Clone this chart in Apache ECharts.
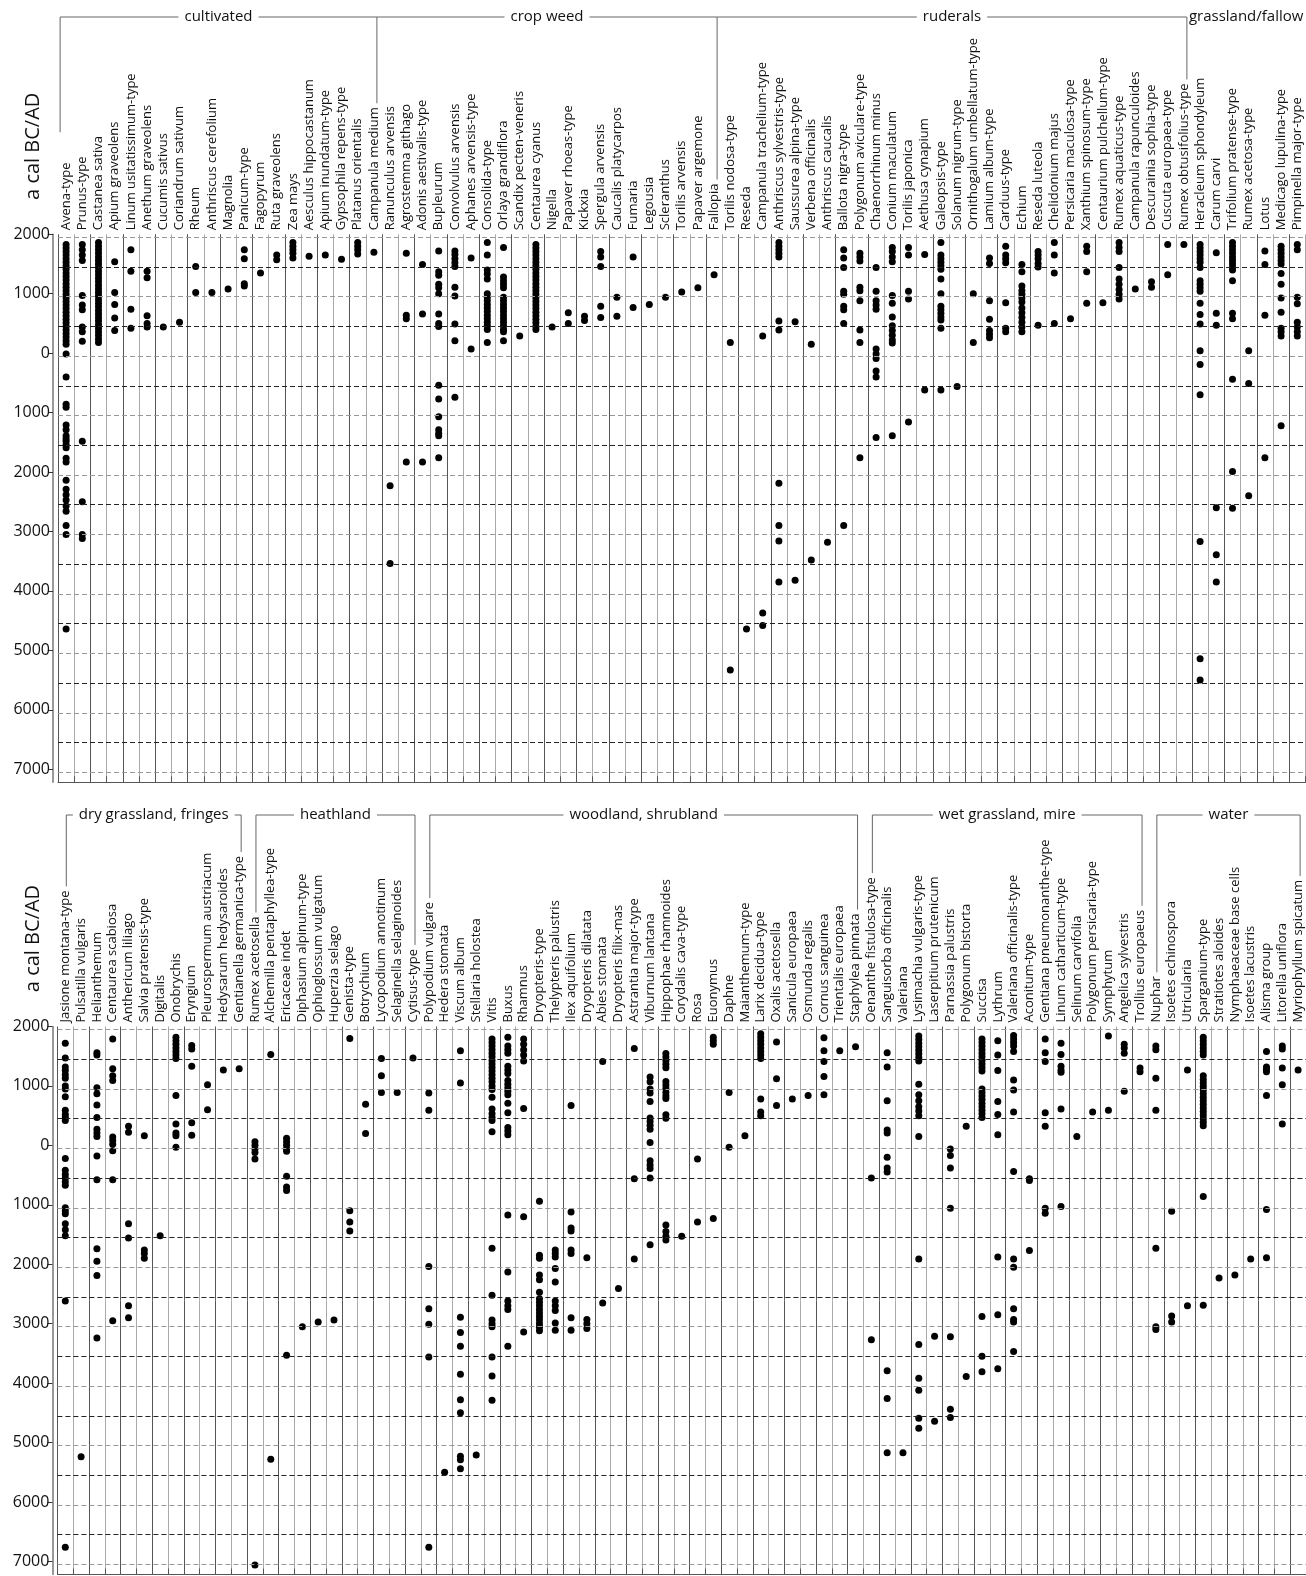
<!DOCTYPE html>
<html>
<head>
<meta charset="utf-8">
<script src="https://cdn.jsdelivr.net/npm/echarts@6/dist/echarts.min.js"></script>
<style>
  html, body { margin: 0; padding: 0; background: #fff; }
  #chart { width: 1306px; height: 1576px; }
</style>
</head>
<body>
<div id="chart"></div>
<script>
// ---- data (years: positive = AD, negative = BC) ----
const yTicks = [2000, 1000, 0, -1000, -2000, -3000, -4000, -5000, -6000, -7000];
// dashed guide lines every 500 years BP
const bpLines = [1950, 1450, 950, 450, -50, -550, -1050, -1550, -2050, -2550, -3050, -3550, -4050, -4550, -5050, -5550, -6050, -6550, -7050];

const cultivatedTaxa = ['Avena-type', 'Prunus-type', 'Castanea sativa', 'Apium graveolens', 'Linum usitatissimum-type', 'Anethum graveolens', 'Cucumis sativus', 'Coriandrum sativum', 'Rheum', 'Anthriscus cerefolium', 'Magnolia', 'Panicum-type', 'Fagopyrum', 'Ruta graveolens', 'Zea mays', 'Aesculus hippocastanum', 'Apium inundatum-type', 'Gypsophila repens-type', 'Platanus orientalis', 'Campanula medium'];
const cultivatedDates = [
  [1830, 1770, 1710, 1650, 1590, 1530, 1470, 1410, 1350, 1290, 1230, 1170, 1110, 1050, 990, 930, 870, 810, 750, 690, 630, 570, 510, 450, 390, 330, 270, 210, 150, -15, -400, -860, -910, -1210, -1290, -1390, -1440, -1480, -1540, -1590, -1770, -1830, -2140, -2290, -2380, -2470, -2570, -2660, -2900, -3050, -4640],
  [1830, 1740, 1650, 1560, 970, 810, 730, 440, 360, 200, -1480, -2500, -3050, -3120],
  [1860, 1800, 1740, 1680, 1620, 1560, 1500, 1440, 1380, 1320, 1260, 1200, 1140, 1080, 1020, 960, 900, 840, 780, 720, 660, 600, 540, 480, 420, 360, 300, 240, 180],
  [1540, 1020, 820, 590, 380],
  [1740, 1380, 740, 420],
  [1380, 1270, 630, 500, 440],
  [440],
  [520],
  [1460, 1020],
  [1020],
  [1080],
  [1740, 1590, 1170, 1130],
  [1350],
  [1650, 1570],
  [1860, 1800, 1740, 1680, 1600],
  [1630],
  [1650],
  [1580],
  [1860, 1800, 1740, 1670],
  [1700]
];

const cropWeedTaxa = ['Ranunculus arvensis', 'Agrostemma githago', 'Adonis aestivalis-type', 'Bupleurum', 'Convolvulus arvensis', 'Aphanes arvensis-type', 'Consolida-type', 'Orlaya grandiflora', 'Scandix pecten-veneris', 'Centaurea cyanus', 'Nigella', 'Papaver rhoeas-type', 'Kickxia', 'Spergula arvensis', 'Caucalis platycarpos', 'Fumaria', 'Legousia', 'Scleranthus', 'Torilis arvensis', 'Papaver argemone', 'Fallopia'];
const cropWeedDates = [
  [-2230, -3540],
  [1680, 640, 580, -1830],
  [1490, 660, -1830],
  [1720, 1370, 1310, 1160, 1100, 1000, 660, 500, 450, -540, -770, -1070, -1290, -1350, -1390, -1760],
  [1720, 1660, 1590, 1520, 1460, 1110, 960, 490, 210, -740],
  [1600, 70],
  [1860, 1650, 1400, 1330, 1250, 1000, 940, 880, 820, 760, 700, 640, 580, 520, 460, 400, 180],
  [1780, 1280, 1220, 1160, 1100, 940, 880, 820, 760, 700, 640, 580, 520, 460, 400, 360, 210],
  [290],
  [1830, 1770, 1710, 1650, 1590, 1530, 1470, 1410, 1350, 1290, 1230, 1170, 1110, 1050, 990, 930, 870, 810, 750, 690, 630, 570, 510, 450, 400],
  [440],
  [680, 500],
  [620, 550],
  [1710, 1620, 1460, 790, 600],
  [940, 620],
  [1620, 770],
  [820],
  [940],
  [1030],
  [1100],
  [1320]
];

const ruderalsTaxa = ['Torilis nodosa-type', 'Reseda', 'Campanula trachelium-type', 'Anthriscus sylvestris-type', 'Saussurea alpina-type', 'Verbena officinalis', 'Anthriscus caucalis', 'Ballota nigra-type', 'Polygonum aviculare-type', 'Chaenorrhinum minus', 'Conium maculatum', 'Torilis japonica', 'Aethusa cynapium', 'Galeopsis-type', 'Solanum nigrum-type', 'Ornithogalum umbellatum-type', 'Lamium album-type', 'Carduus-type', 'Echium', 'Reseda luteola', 'Chelidonium majus', 'Persicaria maculosa-type', 'Xanthium spinosum-type', 'Centaurium pulchellum-type', 'Rumex aquaticus-type', 'Campanula rapunculoides', 'Descurainia sophia-type', 'Cuscuta europaea-type', 'Rumex obtusifolius-type'];
const ruderalsDates = [
  [180, -5330],
  [-4640],
  [290, -4370, -4580],
  [1860, 1800, 1740, 1680, 1620, 540, 390, -2190, -2900, -3160, -3850],
  [530, -3820],
  [150, -3480],
  [-3180],
  [1740, 1600, 1440, 1040, 990, 790, 730, 500, -2900],
  [1680, 1620, 1550, 1110, 1050, 880, 390, 180, -1760],
  [1440, 1040, 880, 810, 740, 70, -15, -90, -300, -400, -1420],
  [1780, 1710, 1620, 1540, 970, 840, 610, 460, 380, 300, 220, 170, -1390],
  [1780, 1650, 1040, 910, -1160],
  [1660, -620],
  [1860, 1650, 1590, 1530, 1470, 1410, 1250, 1000, 790, 730, 670, 610, 560, 420, -620],
  [-560],
  [1000, 180],
  [1600, 1510, 880, 570, 380, 320, 260],
  [1800, 1650, 1590, 1520, 850, 420, 360],
  [1490, 1370, 1130, 1050, 990, 930, 860, 760, 680, 600, 520, 440, 360],
  [1710, 1650, 1590, 1510, 1450, 470],
  [1860, 1650, 1350, 500],
  [580],
  [1800, 1710, 1370, 840],
  [850],
  [1860, 1780, 1710, 1440, 1250, 1160, 1070, 990, 910],
  [1080],
  [1200, 1110],
  [1830, 1320],
  [1830]
];

const grasslandTaxa = ['Heracleum sphondyleum', 'Carum carvi', 'Trifolium pratense-type', 'Rumex acetosa-type', 'Lotus', 'Medicago lupulina-type', 'Pimpinella major-type'];
const grasslandDates = [
  [1830, 1770, 1710, 1650, 1590, 1530, 1440, 1220, 1160, 1100, 1040, 840, 650, 490, 40, -190, -700, -3170, -5140, -5500],
  [1690, 670, 470, -2600, -3390, -3850],
  [1860, 1800, 1740, 1680, 1620, 1560, 1500, 1440, 1400, 1220, 670, 580, -440, -1990, -2610],
  [40, -510, -2400],
  [1720, 1490, 640, -1760],
  [1800, 1740, 1680, 1620, 1560, 1500, 1340, 1160, 930, 690, 420, 360, 290, -1220],
  [1830, 1740, 940, 830, 520, 440, 360, 290]
];

const dryTaxa = ['Jasione montana-type', 'Pulsatilla vulgaris', 'Helianthemum', 'Centaurea scabiosa', 'Anthericum liliago', 'Salvia pratensis-type', 'Digitalis', 'Onobrychis', 'Eryngium', 'Pleurospermum austriacum', 'Hedysarum hedysaroides', 'Gentianella germanica-type'];
const dryDates = [
  [1720, 1470, 1320, 1260, 1190, 1130, 1000, 950, 820, 590, 520, 470, 420, -220, -420, -490, -550, -610, -670, -1050, -1100, -1150, -1320, -1420, -1520, -2620, -6760],
  [-5240],
  [1560, 1520, 970, 870, 680, 470, 270, 210, 150, -180, -580, -1740, -1950, -2190, -3240],
  [1790, 1290, 1170, 1090, 140, 80, 20, -90, -580, -2950],
  [320, 220, -1320, -1560, -2700, -2900],
  [160, -1760, -1820, -1900],
  [-1520],
  [1820, 1760, 1700, 1640, 1580, 1520, 1460, 840, 360, 210, 160, -30],
  [1680, 1620, 1330, 380, 170],
  [1020, 600],
  [1270],
  [1290]
];

const heathTaxa = ['Rumex acetosella', 'Alchemilla pentaphyllea-type', 'Ericaceae indet', 'Diphasium alpinum-type', 'Ophioglossum vulgatum', 'Huperzia selago', 'Genista-type', 'Botrychium', 'Lycopodium annotinum', 'Selaginella selaginoides', 'Cytisus-type'];
const heathDates = [
  [60, 0, -60, -120, -230, -7060],
  [1530, -5280],
  [120, 60, 0, -60, -100, -520, -700, -760, -3530],
  [-3050],
  [-2970],
  [-2940],
  [1800, -1100, -1290, -1440],
  [690, 200],
  [1460, 1170, 890],
  [890],
  [1470]
];

const woodTaxa = ['Polypodium vulgare', 'Hedera stomata', 'Viscum album', 'Stellaria holostea', 'Vitis', 'Buxus', 'Rhamnus', 'Dryopteris-type', 'Thelypteris palustris', 'Ilex aquifolium', 'Dryopteris dilatata', 'Abies stomata', 'Dryopteris filix-mas', 'Astrantia major-type', 'Viburnum lantana', 'Hippophae rhamnoides', 'Corydalis cava-type', 'Rosa', 'Euonymus', 'Daphne', 'Maianthemum-type', 'Larix decidua-type', 'Oxalis acetosella', 'Sanicula europaea', 'Osmunda regalis', 'Cornus sanguinea', 'Trientalis europaea', 'Staphylea pinnata'];
const woodDates = [
  [880, 590, -2040, -2750, -3010, -3560, -6760, -7300],
  [-5500],
  [1590, 1050, -2890, -3150, -3380, -3850, -4280, -4500, -5230, -5290, -5440],
  [-5210],
  [1790, 1730, 1670, 1610, 1550, 1490, 1430, 1370, 1310, 1250, 1190, 1130, 1070, 1000, 940, 810, 610, 530, 470, 420, 230, -1730, -2520, -2940, -3000, -3050, -3560, -3880, -4290],
  [1820, 1670, 1610, 1550, 1330, 1270, 1210, 1090, 1030, 970, 910, 850, 710, 550, 300, 240, 180, -1170, -2130, -2620, -2700, -2760, -3380],
  [1790, 1700, 1610, 1520, 1420, 620, -1200, -3140],
  [-940, -1850, -1900, -2180, -2260, -2470, -2580, -2640, -2700, -2760, -2820, -2880, -2940, -3000, -3060, -3120],
  [-1760, -1820, -1880, -2070, -2300, -2620, -2700, -2780, -2990, -3110],
  [670, -1120, -1390, -1440, -1760, -1820, -2900, -3110],
  [-1890, -2930, -3000, -3080],
  [1410, -2650],
  [-2410],
  [1630, -560, -1910],
  [1150, 1070, 950, 880, 740, 460, 400, 340, 270, 50, -260, -330, -390, -550, -1670],
  [1545, 1485, 1425, 1365, 1305, 1075, 1015, 955, 895, 835, 790, 515, 455, -1340, -1450, -1530, -1590],
  [-1530],
  [-230, -1290],
  [1820, 1760, 1700, -1230],
  [890, -30],
  [160],
  [1880, 1820, 1760, 1700, 1640, 1580, 1520, 1460, 780, 560, 500],
  [1740, 1120, 670],
  [780],
  [840],
  [1810, 1590, 1410, 1160, 850],
  [1590],
  [1660]
];

const wetTaxa = ['Oenanthe fistulosa-type', 'Sanguisorba officinalis', 'Valeriana', 'Lysimachia vulgaris-type', 'Laserpitium prutenicum', 'Parnassia palustris', 'Polygonum bistorta', 'Succisa', 'Lythrum', 'Valeriana officinalis-type', 'Aconitum-type', 'Gentiana pneumonanthe-type', 'Linum catharticum-type', 'Selinum carvifolia', 'Polygonum persicaria-type', 'Symphytum', 'Angelica sylvestris', 'Trollius europaeus'];
const wetDates = [
  [-550, -3270, -7300],
  [1560, 1320, 750, 260, 210, -200, -380, -450, -3790, -4260, -5170],
  [-5170],
  [1840, 1780, 1720, 1660, 1600, 1540, 1480, 1420, 1030, 850, 750, 650, 580, 500, 150, -1910, -3350, -3920, -4120, -4590, -4760],
  [-3210, -4640],
  [-60, -170, -380, -1060, -3220, -4440, -4580],
  [320, -3890],
  [1790, 1730, 1670, 1610, 1550, 1490, 1430, 1370, 1310, 1250, 950, 890, 830, 770, 710, 650, 590, 530, 470, -2880, -3550, -3810],
  [1760, 1520, 1260, 740, 520, 180, -1880, -2850, -3760],
  [1850, 1790, 1730, 1670, 1580, 1100, 930, 560, -440, -1910, -2050, -2750, -2930, -2970, -3470],
  [-560, -590, -1770],
  [1790, 1560, 1410, 550, 320, -1060, -1140],
  [1720, 1530, 1330, 1270, 1230, 610, -1030],
  [150],
  [560],
  [1840, 590],
  [1700, 1640, 1550, 910],
  [1300, 1240]
];

const waterTaxa = ['Nuphar', 'Isoetes echinospora', 'Utricularia', 'Sparganium-type', 'Stratiotes aloides', 'Nymphaeaceae base cells', 'Isoetes lacustris', 'Alisma group', 'Litorella uniflora', 'Myriophyllum spicatum'];
const waterDates = [
  [1670, 1610, 1130, 590, -1730, -3050, -3100],
  [-1110, -2870, -2970],
  [1270, -2700],
  [1820, 1760, 1700, 1640, 1580, 1520, 1170, 1110, 1050, 990, 930, 870, 810, 750, 690, 630, 570, 510, 450, 390, 330, -860, -2690],
  [-2230],
  [-2180],
  [-1910],
  [1580, 1320, 1280, 1240, 840, -1080, -1890],
  [1670, 1620, 1300, 1020, 360],
  [1270]
];

// ---- layout ----
const FONT = '"Open Sans", sans-serif';
const LABEL_SIZE = 13;
const GROUP_SIZE = 15;
const Y_MIN = -7220, Y_MAX = 2000;
const PANEL_H = 548;
const LINE_COLOR = '#666';

const panels = [
  { groups: [
      { name: 'cultivated', taxa: cultivatedTaxa, dates: cultivatedDates },
      { name: 'crop weed', taxa: cropWeedTaxa, dates: cropWeedDates },
      { name: 'ruderals', taxa: ruderalsTaxa, dates: ruderalsDates },
      { name: 'grassland/fallow', taxa: grasslandTaxa, dates: grasslandDates }
    ], left: 58, top: 234.3, width: 1247.4, bracketY: 17, joined: true },
  { groups: [
      { name: 'dry grassland, fringes', taxa: dryTaxa, dates: dryDates },
      { name: 'heathland', taxa: heathTaxa, dates: heathDates },
      { name: 'woodland, shrubland', taxa: woodTaxa, dates: woodDates },
      { name: 'wet grassland, mire', taxa: wetTaxa, dates: wetDates },
      { name: 'water', taxa: waterTaxa, dates: waterDates }
    ], left: 57.4, top: 1026.5, width: 1249.8, bracketY: 815, joined: false }
];

panels.forEach(function (p) {
  p.names = [];
  p.points = [];
  p.groups.forEach(function (g) {
    g.first = p.names.length;
    g.taxa.forEach(function (t, i) {
      const col = p.names.length;
      p.names.push(t);
      g.dates[i].forEach(function (d) { p.points.push([col, d]); });
    });
    g.last = p.names.length - 1;
  });
});

const chart = echarts.init(document.getElementById('chart'));

const grid = [], xAxis = [], yAxis = [], series = [];
panels.forEach(function (p, k) {
  grid.push({ left: p.left, top: p.top, width: p.width, height: PANEL_H });
  xAxis.push({
    type: 'category', gridIndex: k, position: 'top', data: p.names, boundaryGap: true,
    axisLine: { show: false }, axisTick: { show: false },
    axisLabel: { rotate: 90, interval: 0, margin: 4, fontSize: LABEL_SIZE, fontFamily: FONT, color: '#111' },
    splitLine: { show: true, interval: 0, lineStyle: { color: ['#555', '#aaa'], width: 1 } }
  });
  xAxis.push({
    type: 'category', gridIndex: k, position: 'bottom', data: p.names, boundaryGap: true,
    axisLine: { show: true, lineStyle: { color: '#555', width: 1 } },
    axisTick: { show: true, inside: true, length: 6, interval: 0, lineStyle: { color: '#555' } },
    axisLabel: { show: false }, splitLine: { show: false }
  });
  yAxis.push({
    type: 'value', gridIndex: k, min: Y_MIN, max: Y_MAX, offset: 5,
    axisLine: { show: true, lineStyle: { color: '#777', width: 1.5 } },
    axisTick: { show: true, length: 5, customValues: yTicks, lineStyle: { color: '#333' } },
    axisLabel: { customValues: yTicks, formatter: function (v) { return String(Math.abs(v)); },
                 fontSize: 16, fontFamily: FONT, color: '#111', margin: 3 },
    splitLine: { show: false }
  });
  series.push({
    type: 'scatter', xAxisIndex: 2 * k, yAxisIndex: k, data: p.points,
    symbolSize: 7, itemStyle: { color: '#000', opacity: 1 }, silent: true,
    markLine: {
      silent: true, symbol: 'none', label: { show: false },
      data: bpLines.map(function (v, i) {
        return { yAxis: v, lineStyle: { color: i % 2 ? '#222' : '#999', type: [5, 3], width: 1 } };
      })
    }
  });
});

chart.setOption({ animation: false, grid: grid, xAxis: xAxis, yAxis: yAxis, series: series });

// ---- group brackets, computed from the category axis ----
const ctx = document.createElement('canvas').getContext('2d');
function textW(s, size) { ctx.font = size + 'px ' + FONT; return ctx.measureText(s).width; }

const graphics = [];
function seg(x1, y1, x2, y2) {
  if (Math.abs(x2 - x1) < 1 && Math.abs(y2 - y1) < 1) return;
  graphics.push({ type: 'line', silent: true, shape: { x1: x1, y1: y1, x2: x2, y2: y2 },
                  style: { stroke: LINE_COLOR, lineWidth: 1 } });
}
function label(x, y, s, size, rot) {
  graphics.push({ type: 'text', silent: true, x: x, y: y, rotation: rot || 0,
                  style: { text: s, font: size + 'px ' + FONT, fill: '#111', align: 'center', verticalAlign: 'middle' } });
}

panels.forEach(function (p, k) {
  const colX = function (i) { return chart.convertToPixel({ xAxisIndex: 2 * k }, i); };
  const labTop = function (i) { return p.top - 4 - textW(p.names[i], LABEL_SIZE) - 4; };
  const y0 = p.bracketY;

  label(33, p.top - 88, 'a cal BC/AD', 20, Math.PI / 2);

  if (p.joined) {
    const startX = colX(0) - 6;
    seg(startX, y0, startX, p.top - 102);
    const divs = p.groups.map(function (g) { return colX(g.last) + 3; });
    let cursor = startX;
    p.groups.forEach(function (g, gi) {
      const l = gi === 0 ? startX : divs[gi - 1];
      const r = gi === p.groups.length - 1 ? p.left + p.width : divs[gi];
      const w = textW(g.name, GROUP_SIZE);
      const c = Math.min((l + r) / 2, p.left + p.width - w / 2 - 2);
      if (c - w / 2 - 6 > cursor) seg(cursor, y0, c - w / 2 - 6, y0);
      cursor = c + w / 2 + 6;
      label(c, y0, g.name, GROUP_SIZE);
      if (gi < p.groups.length - 1) {
        if (divs[gi] > cursor) { seg(cursor, y0, divs[gi], y0); cursor = divs[gi]; }
        seg(divs[gi], y0, divs[gi], labTop(g.last));
      }
    });
  } else {
    p.groups.forEach(function (g) {
      const lx = colX(g.first) + 1;
      const rx = colX(g.last) + 2;
      const w = textW(g.name, GROUP_SIZE);
      const c = (lx + rx) / 2;
      seg(lx, y0, c - w / 2 - 6, y0);
      seg(c + w / 2 + 6, y0, rx, y0);
      seg(lx, y0, lx, labTop(g.first));
      seg(rx, y0, rx, labTop(g.last));
      label(c, y0, g.name, GROUP_SIZE);
    });
  }
});

chart.setOption({ graphic: graphics });
</script>
</body>
</html>
